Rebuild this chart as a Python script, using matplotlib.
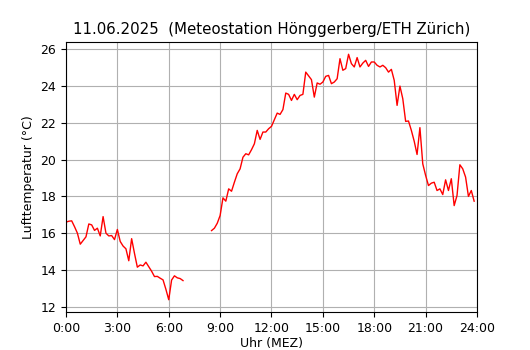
import numpy as np
import matplotlib
matplotlib.use("Agg")
import matplotlib.pyplot as plt

# 10-minute values, 00:00 .. 23:50 (None = no data)
temp_night = [16.6, 16.65, 16.67, 16.35, 16.0, 15.4,
              15.6, 15.8, 16.5, 16.45, 16.15, 16.27,
              15.85, 16.9, 16.0, 15.85, 15.87, 15.65,
              16.2, 15.55, 15.3, 15.15, 14.5, 15.7,
              14.9, 14.15, 14.27, 14.22, 14.42, 14.18,
              13.93, 13.64, 13.65, 13.55, 13.46, 12.95,
              12.38, 13.45, 13.68, 13.57, 13.53, 13.42]
temp_gap = [None] * 9  # 07:00 .. 08:20 missing
temp_day = [16.14, 16.27, 16.54,
            16.96, 17.92, 17.74, 18.41, 18.28, 18.77,
            19.23, 19.5, 20.13, 20.32, 20.26, 20.54,
            20.86, 21.59, 21.1, 21.5, 21.5, 21.68,
            21.81, 22.17, 22.53, 22.46, 22.72, 23.62,
            23.55, 23.22, 23.55, 23.26, 23.49, 23.55,
            24.76, 24.55, 24.35, 23.4, 24.17, 24.1,
            24.22, 24.53, 24.58, 24.13, 24.22, 24.4,
            25.49, 24.86, 24.95, 25.73, 25.22, 25.04,
            25.55, 25.04, 25.25, 25.4, 25.07, 25.31,
            25.31, 25.13, 25.04, 25.13, 25.0, 24.76,
            24.91, 24.31, 22.95, 24.0, 23.31, 22.08,
            22.1, 21.59, 21.0, 20.28, 21.74, 19.77,
            19.14, 18.59, 18.72, 18.77, 18.32, 18.41,
            18.1, 18.9, 18.32, 18.96, 17.5, 18.05,
            19.72, 19.5, 19.05, 18.0, 18.32, 17.74]

temps = np.array(temp_night + temp_gap + temp_day, dtype=float)
hours = np.arange(len(temps)) * 10 / 60

tick_hours = [0, 3, 6, 9, 12, 15, 18, 21, 24]
tick_labels = ["%d:00" % h for h in tick_hours]

fig = plt.figure(figsize=(5.3, 3.5), dpi=100)
ax = fig.add_axes([0.1245, 0.1086, 0.7755, 0.7714])
ax.plot(hours, temps, color="red", linewidth=1)
ax.set_xlim(0, 24)
ax.set_xticks(tick_hours)
ax.set_xticklabels(tick_labels)
ax.grid(True, color="#b0b0b0")
ax.set_axisbelow(True)
ax.set_title("11.06.2025  (Meteostation Hönggerberg/ETH Zürich)", fontsize=10.8)
ax.set_xlabel("Uhr (MEZ)", fontsize=9, labelpad=2)
ax.set_ylabel("Lufttemperatur (°C)", fontsize=9)
ax.tick_params(axis="both", labelsize=9)

fig.savefig("out.png", dpi=100)
